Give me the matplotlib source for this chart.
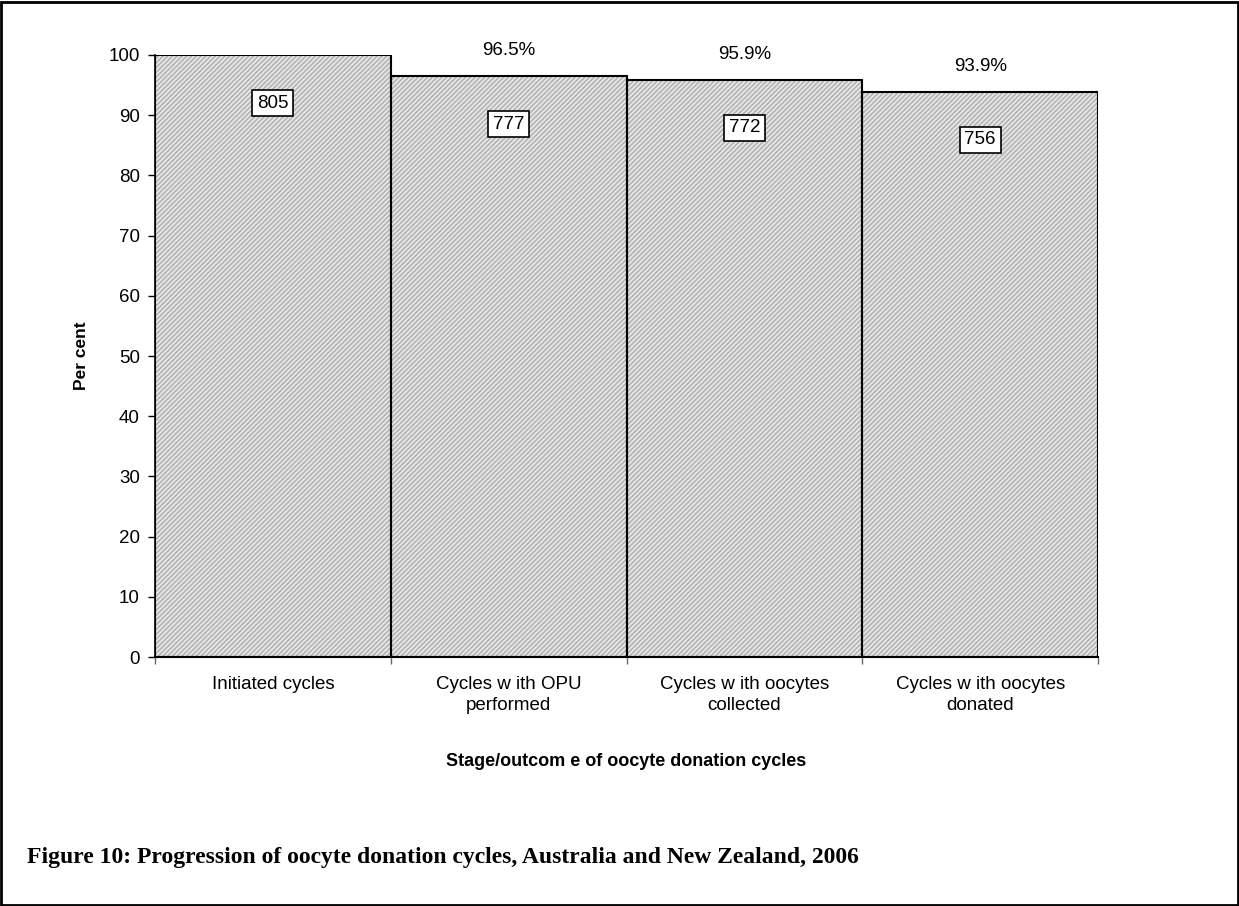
import matplotlib.pyplot as plt
import numpy as np
from matplotlib.patches import Rectangle

# data
stages = ['Initiated cycles', 'Cycles w ith OPU\nperformed',
          'Cycles w ith oocytes\ncollected', 'Cycles w ith oocytes\ndonated']
counts = [805, 777, 772, 756]
pct_labels = ['', '96.5%', '95.9%', '93.9%']

pct = np.array(counts) / counts[0] * 100

plt.rcParams['hatch.linewidth'] = 1.3
fig = plt.figure(figsize=(12.39, 9.06), dpi=100)
ax = fig.add_axes([0.1251, 0.2748, 0.7611, 0.6645])

x = np.arange(len(stages))
# hatched fill, then black outline on top
ax.bar(x, pct, width=1.0, color='#ececec', edgecolor='#b5b5b5',
       hatch='/' * 7, linewidth=0, zorder=2)
ax.bar(x, pct, width=1.0, fill=False, edgecolor='black', linewidth=1.5, zorder=3)

for xi, v, n, lab in zip(x, pct, counts, pct_labels):
    ax.text(xi, v - 8, str(n), ha='center', va='center', fontsize=13.5,
            family='Liberation Sans', zorder=4,
            bbox=dict(boxstyle='square,pad=0.25', fc='white', ec='black', lw=1.2))
    if lab:
        ax.annotate(lab, (xi, v), xytext=(0, 12), textcoords='offset points',
                    ha='center', va='bottom', fontsize=13.5, family='Liberation Sans')

ax.set_xlim(-0.5, len(stages) - 0.5)
ax.set_ylim(0, 100)
ax.set_yticks(np.arange(0, 101, 10))
ax.set_xticks(x)
ax.set_xticklabels(stages, fontsize=13.5, family='Liberation Sans', linespacing=1.3)
ax.set_xticks(np.arange(-0.5, len(stages)), minor=True)
ax.tick_params(axis='x', which='major', length=0, pad=14)
ax.tick_params(axis='x', which='minor', length=5, width=1, color='#666666')
ax.tick_params(axis='y', length=5, width=1, labelsize=13.5, pad=6)
for t in ax.get_yticklabels():
    t.set_family('Liberation Sans')

for s in ['top', 'right']:
    ax.spines[s].set_visible(False)
ax.spines['left'].set_linewidth(1.2)
ax.spines['bottom'].set_linewidth(1.5)

ax.set_ylabel('Per cent', fontsize=12.5, fontweight='bold', family='Liberation Sans',
              labelpad=14)
ax.set_xlabel('Stage/outcom e of oocyte donation cycles', fontsize=13,
              fontweight='bold', family='Liberation Sans', labelpad=28)

fig.text(0.022, 0.053, 'Figure 10: Progression of oocyte donation cycles, Australia and New Zealand, 2006',
         fontsize=17, fontweight='bold', family='Liberation Serif', va='center')

# border around the whole picture
fig.patches.append(Rectangle((0.001, 0.001), 0.998, 0.997, transform=fig.transFigure,
                             fill=False, edgecolor='black', linewidth=2))

fig.savefig('out.png', dpi=100)
